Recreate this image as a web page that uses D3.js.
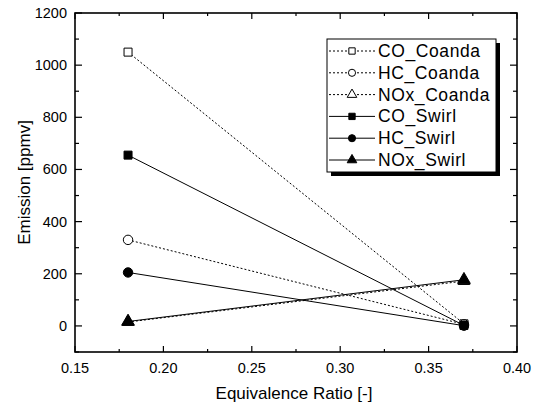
<!DOCTYPE html>
<html>
<head>
<meta charset="utf-8">
<script src="https://cdn.jsdelivr.net/npm/d3@7"></script>
<style>
  body { margin: 0; background: #fff; }
  svg { display: block; font-family: Arial, "Liberation Sans", sans-serif; }
</style>
</head>
<body>
<div id="chart"></div>
<script>
// datos
const phi = [0.18, 0.37];
const coCoanda = [1050, 8];
const hcCoanda = [330, 6];
const noxCoanda = [15, 172];
const coSwirl = [655, 2];
const hcSwirl = [205, 1];
const noxSwirl = [17, 177];

const seriesNames = ["CO_Coanda", "HC_Coanda", "NOx_Coanda", "CO_Swirl", "HC_Swirl", "NOx_Swirl"];
const seriesValues = [coCoanda, hcCoanda, noxCoanda, coSwirl, hcSwirl, noxSwirl];
const seriesSymbols = [d3.symbolSquare, d3.symbolCircle, d3.symbolTriangle, d3.symbolSquare, d3.symbolCircle, d3.symbolTriangle];
const seriesHollow = [true, true, true, false, false, false];

const xTicks = [0.15, 0.20, 0.25, 0.30, 0.35, 0.40];
const yTicks = [0, 200, 400, 600, 800, 1000, 1200];

const width = 538, height = 402;
const margin = { left: 75, right: 21, top: 13, bottom: 50 };

const svg = d3.select("#chart").append("svg")
  .attr("width", width)
  .attr("height", height);

const x = d3.scaleLinear().domain([0.15, 0.40]).range([margin.left, width - margin.right]);
const y = d3.scaleLinear().domain([-100, 1200]).range([height - margin.bottom, margin.top]);

const x0 = x.range()[0], x1 = x.range()[1];
const y0 = y.range()[0], y1 = y.range()[1];

// ticks hacia dentro, mayores y menores
const minorX = d3.range(0.175, 0.40, 0.05);
const minorY = d3.range(-100, 1200, 200);
const tickG = svg.append("g").attr("stroke", "#000").attr("stroke-width", 1.2);

function vTicks(vals, len) {
  vals.forEach(v => {
    tickG.append("line").attr("x1", x(v)).attr("x2", x(v)).attr("y1", y0).attr("y2", y0 - len);
    tickG.append("line").attr("x1", x(v)).attr("x2", x(v)).attr("y1", y1).attr("y2", y1 + len);
  });
}
function hTicks(vals, len) {
  vals.forEach(v => {
    tickG.append("line").attr("y1", y(v)).attr("y2", y(v)).attr("x1", x0).attr("x2", x0 + len);
    tickG.append("line").attr("y1", y(v)).attr("y2", y(v)).attr("x1", x1).attr("x2", x1 - len);
  });
}
vTicks(xTicks, 6);
vTicks(minorX, 3);
hTicks(yTicks, 7);
hTicks(minorY, 4);

// marco
svg.append("rect")
  .attr("x", x0).attr("y", y1)
  .attr("width", x1 - x0).attr("height", y0 - y1)
  .attr("fill", "none").attr("stroke", "#000").attr("stroke-width", 1.6);

// etiquetas de los ejes
svg.append("g").selectAll("text")
  .data(xTicks)
  .enter().append("text")
  .attr("x", d => x(d))
  .attr("y", y0 + 21)
  .attr("text-anchor", "middle")
  .attr("font-size", 14.5)
  .text(d => d3.format(".2f")(d));

svg.append("g").selectAll("text")
  .data(yTicks)
  .enter().append("text")
  .attr("x", x0 - 8)
  .attr("y", d => y(d) + 5)
  .attr("text-anchor", "end")
  .attr("font-size", 14.5)
  .text(d => d);

svg.append("text")
  .attr("x", (x0 + x1) / 2 - 2)
  .attr("y", 399)
  .attr("text-anchor", "middle")
  .attr("font-size", 17)
  .text("Equivalence Ratio [-]");

svg.append("text")
  .attr("transform", `translate(30,${(y0 + y1) / 2}) rotate(-90)`)
  .attr("text-anchor", "middle")
  .attr("font-size", 17)
  .text("Emission [ppmv]");

// líneas
const line = d3.line().x((d, i) => x(phi[i])).y(d => y(d));
const lineG = svg.append("g");
seriesValues.forEach((vals, k) => {
  lineG.append("path")
    .attr("d", line(vals))
    .attr("fill", "none")
    .attr("stroke", "#000")
    .attr("stroke-width", 1)
    .attr("stroke-dasharray", seriesHollow[k] ? "2,2" : null);
});

// marcadores
const sizes = [64, 70, 60, 64, 70, 70];
const markG = svg.append("g");
seriesValues.forEach((vals, k) => {
  markG.selectAll(null)
    .data(vals)
    .enter().append("path")
    .attr("transform", (d, i) => `translate(${x(phi[i])},${y(d)})`)
    .attr("d", d3.symbol().type(seriesSymbols[k]).size(sizes[k]))
    .attr("fill", seriesHollow[k] ? "#fff" : "#000")
    .attr("stroke", "#000")
    .attr("stroke-width", 1);
});

// leyenda
const lg = { x: 327, y: 39, w: 169, h: 133, row: 21.8 };
svg.append("rect")
  .attr("x", lg.x + 4).attr("y", lg.y + 4)
  .attr("width", lg.w).attr("height", lg.h)
  .attr("fill", "#000");
svg.append("rect")
  .attr("x", lg.x).attr("y", lg.y)
  .attr("width", lg.w).attr("height", lg.h)
  .attr("fill", "#fff").attr("stroke", "#000").attr("stroke-width", 1);

const items = svg.append("g").selectAll("g")
  .data(seriesNames)
  .enter().append("g")
  .attr("transform", (d, i) => `translate(${lg.x},${lg.y + 12 + i * lg.row})`);

items.append("line")
  .attr("x1", 2).attr("x2", 48)
  .attr("stroke", "#000")
  .attr("stroke-width", 1)
  .attr("stroke-dasharray", (d, i) => seriesHollow[i] ? "2,2" : null);

items.append("path")
  .attr("transform", "translate(25,0)")
  .attr("d", (d, i) => d3.symbol().type(seriesSymbols[i]).size(40)())
  .attr("fill", (d, i) => seriesHollow[i] ? "#fff" : "#000")
  .attr("stroke", "#000")
  .attr("stroke-width", 1);

items.append("text")
  .attr("x", 51)
  .attr("y", 6)
  .attr("font-size", 17.5)
  .attr("letter-spacing", 0.6)
  .text(d => d);
</script>
</body>
</html>
